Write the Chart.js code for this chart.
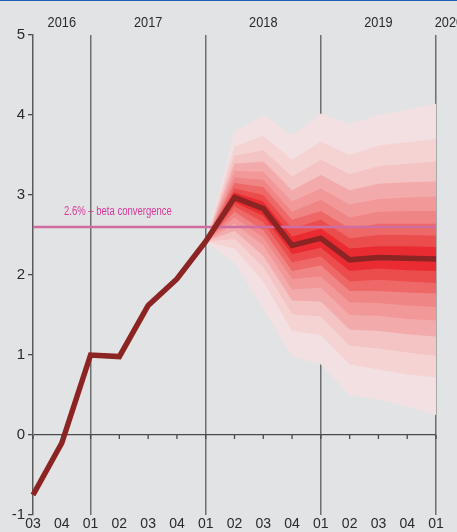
<!DOCTYPE html>
<html>
<head>
<meta charset="utf-8">
<script src="https://cdn.jsdelivr.net/npm/chart.js@4.4.1/dist/chart.umd.min.js"></script>
<style>
  html, body { margin: 0; padding: 0; background: #e2e3e5; }
  #wrap { position: relative; width: 457px; height: 532px; overflow: hidden; }
  #topline { position: absolute; left: 0; top: 0; width: 457px; height: 1px; background: #1c62b2; }
  canvas { display: block; }
</style>
</head>
<body>
<div id="wrap">
  <canvas id="fan" width="457" height="532"></canvas>
  <div id="topline"></div>
</div>
<script>
// quarters from Q3 2015 to Q1 2019
const quarterLabels = ['03', '04', '01', '02', '03', '04', '01', '02', '03', '04', '01', '02', '03', '04', '01'];
const yearLabels = ['2016', '2017', '2018', '2019', '2020'];
const yearPositions = [1, 4, 8, 12, 14.45]; // category index the year label sits on

const projection = [-0.75, -0.10, 1.00, 0.98, 1.62, 1.95, 2.42, 2.97, 2.83, 2.37, 2.46, 2.19, 2.22, 2.21, 2.20];
const betaConvergence = [2.6, 2.6, 2.6, 2.6, 2.6, 2.6, 2.6, 2.6, 2.6, 2.6, 2.6, 2.6, 2.6, 2.6, 2.6];

// fan chart bands, outermost first
const bandUpper = [
  [null, null, null, null, null, null, 2.42, 3.79, 4.00, 3.75, 4.02, 3.89, 4.00, 4.07, 4.14],
  [null, null, null, null, null, null, 2.42, 3.61, 3.74, 3.44, 3.67, 3.50, 3.62, 3.66, 3.70],
  [null, null, null, null, null, null, 2.42, 3.49, 3.56, 3.23, 3.44, 3.26, 3.36, 3.39, 3.42],
  [null, null, null, null, null, null, 2.42, 3.39, 3.42, 3.06, 3.25, 3.06, 3.14, 3.16, 3.17],
  [null, null, null, null, null, null, 2.42, 3.30, 3.29, 2.92, 3.08, 2.88, 2.95, 2.97, 2.98],
  [null, null, null, null, null, null, 2.42, 3.22, 3.19, 2.79, 2.94, 2.72, 2.79, 2.80, 2.80],
  [null, null, null, null, null, null, 2.42, 3.15, 3.10, 2.69, 2.80, 2.58, 2.64, 2.64, 2.64],
  [null, null, null, null, null, null, 2.42, 3.08, 3.00, 2.58, 2.69, 2.46, 2.50, 2.50, 2.49],
  [null, null, null, null, null, null, 2.42, 3.03, 2.92, 2.48, 2.58, 2.33, 2.36, 2.36, 2.35]
];
const bandLower = [
  [null, null, null, null, null, null, 2.42, 2.15, 1.58, 0.98, 0.88, 0.50, 0.44, 0.35, 0.25],
  [null, null, null, null, null, null, 2.42, 2.33, 1.92, 1.30, 1.25, 0.88, 0.82, 0.76, 0.72],
  [null, null, null, null, null, null, 2.42, 2.45, 2.10, 1.51, 1.48, 1.12, 1.08, 1.03, 0.99],
  [null, null, null, null, null, null, 2.42, 2.55, 2.24, 1.68, 1.67, 1.32, 1.30, 1.26, 1.23],
  [null, null, null, null, null, null, 2.42, 2.64, 2.37, 1.82, 1.84, 1.50, 1.49, 1.45, 1.43],
  [null, null, null, null, null, null, 2.42, 2.72, 2.47, 1.95, 1.98, 1.66, 1.65, 1.62, 1.60],
  [null, null, null, null, null, null, 2.42, 2.79, 2.56, 2.05, 2.12, 1.80, 1.80, 1.78, 1.77],
  [null, null, null, null, null, null, 2.42, 2.86, 2.66, 2.16, 2.23, 1.92, 1.94, 1.92, 1.90],
  [null, null, null, null, null, null, 2.42, 2.91, 2.74, 2.26, 2.34, 2.05, 2.08, 2.06, 2.05]
];
const bandColors = ['#f2e0e2', '#f6d3d3', '#f4c3c3', '#f3aaab', '#f29898', '#f08585', '#ee6868', '#eb4c4c', '#ea2c32'];

const FONT = '"Liberation Sans", Arial, sans-serif';
const INK = '#2a2a2a';

const datasets = [
  { data: projection, borderColor: '#8c2424', borderWidth: 5.5, pointRadius: 0, fill: false },
  { data: betaConvergence, borderColor: '#cf6da0', borderWidth: 2.5, pointRadius: 0, fill: false }
];
// innermost band first so the wide pale ones are painted underneath
for (let i = bandUpper.length - 1; i >= 0; i--) {
  datasets.push({ data: bandUpper[i], fill: '+1', backgroundColor: bandColors[i],
    borderWidth: 0, borderColor: 'transparent', pointRadius: 0 });
  datasets.push({ data: bandLower[i], fill: false,
    borderWidth: 0, borderColor: 'transparent', pointRadius: 0 });
}

// text squeezed horizontally to mimic the narrow face of the original
function narrowText(ctx, text, cx, cy, squeeze) {
  ctx.save();
  ctx.translate(cx, cy);
  ctx.scale(squeeze, 1);
  ctx.fillText(text, 0, 0);
  ctx.restore();
}

const decorations = {
  id: 'decorations',
  afterDraw(chart) {
    const { ctx, scales: { x, y } } = chart;
    ctx.save();
    ctx.textAlign = 'center';
    ctx.textBaseline = 'middle';

    ctx.font = '15px ' + FONT;
    ctx.fillStyle = INK;
    yearLabels.forEach((t, i) => narrowText(ctx, t, x.getPixelForValue(yearPositions[i]), 23, 0.85));

    // small quarter ticks hanging off the zero line
    const y0 = y.getPixelForValue(0);
    ctx.strokeStyle = '#4a4a4a';
    ctx.lineWidth = 1.3;
    ctx.beginPath();
    quarterLabels.forEach((_, i) => {
      const px = x.getPixelForValue(i);
      ctx.moveTo(px, y0);
      ctx.lineTo(px, y0 + 4);
    });
    ctx.stroke();

    ctx.font = '12.5px ' + FONT;
    ctx.fillStyle = '#d8399b';
    narrowText(ctx, '2.6% \u2013 beta convergence', x.getPixelForValue(2.95), y.getPixelForValue(2.6) - 15, 0.76);
    ctx.restore();
  }
};

new Chart(document.getElementById('fan'), {
  type: 'line',
  data: { labels: quarterLabels, datasets },
  options: {
    responsive: false,
    animation: false,
    layout: { padding: { top: 35, right: 21, left: 0, bottom: 0 } },
    plugins: { legend: { display: false }, tooltip: { enabled: false } },
    elements: { line: { tension: 0 } },
    scales: {
      x: {
        offset: false,
        z: 1,
        grid: {
          drawTicks: false,
          lineWidth: 1.5,
          color: c => quarterLabels[c.index] === '01' ? '#6f6f6f' : 'transparent'
        },
        border: { display: false },
        ticks: { color: INK, font: { family: FONT, size: 14 }, padding: 1, maxRotation: 0, autoSkip: false },
        afterFit: s => { s.height = 17; }
      },
      y: {
        min: -1,
        max: 5,
        grid: {
          lineWidth: 1.3,
          tickLength: 5,
          tickColor: '#4a4a4a',
          color: c => c.tick && c.tick.value === 0 ? '#4a4a4a' : 'transparent'
        },
        border: { display: true, color: '#5a5a5a', width: 1.5 },
        ticks: { stepSize: 1, color: INK, font: { family: FONT, size: 15 }, padding: 3 },
        afterFit: s => { s.width = 33; }
      }
    }
  },
  plugins: [decorations]
});
</script>
</body>
</html>
